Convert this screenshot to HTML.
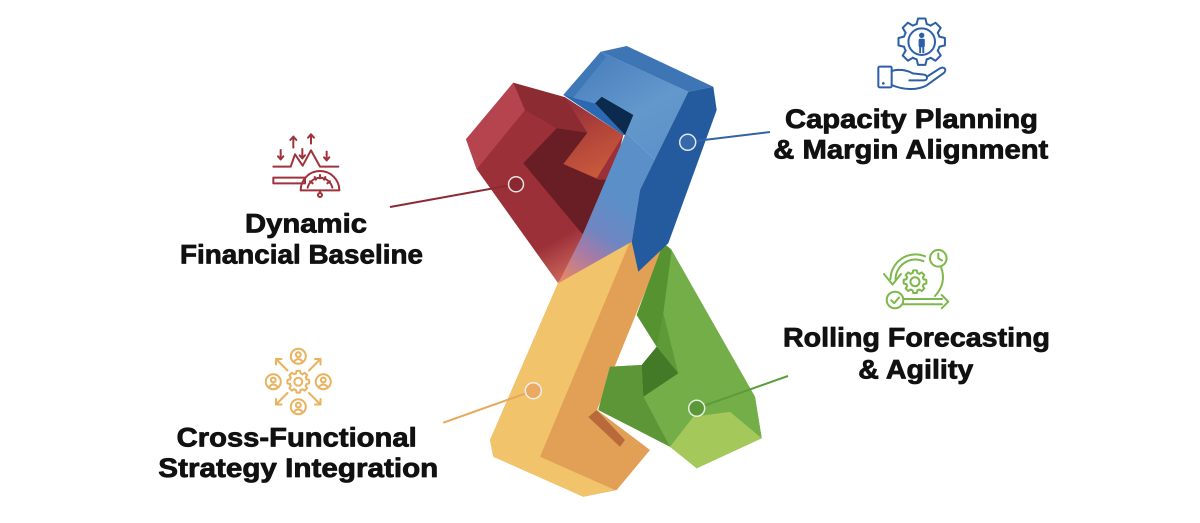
<!DOCTYPE html>
<html>
<head>
<meta charset="utf-8">
<style>
  html,body{margin:0;padding:0;background:#fff;}
  svg{display:block;}
  text.lbl{font-family:"Liberation Sans",Arial,sans-serif;font-weight:700;fill:#111;stroke:#111;stroke-width:0.8;stroke-linejoin:round;}
</style>
</head>
<body>
<svg width="1200" height="523" viewBox="0 0 1200 523" xmlns="http://www.w3.org/2000/svg">
  <defs>
    <linearGradient id="bgrad" gradientUnits="userSpaceOnUse" x1="620" y1="200" x2="565" y2="280">
      <stop offset="0" stop-color="#5b8fc8"/>
      <stop offset="0.4" stop-color="#6f86c2"/>
      <stop offset="0.65" stop-color="#a87aa6"/>
      <stop offset="1" stop-color="#e3866a"/>
    </linearGradient>
    <linearGradient id="btop" gradientUnits="userSpaceOnUse" x1="590" y1="60" x2="660" y2="180">
      <stop offset="0" stop-color="#4a80be"/>
      <stop offset="0.5" stop-color="#6398cc"/>
      <stop offset="1" stop-color="#5b8fc8"/>
    </linearGradient>
    <linearGradient id="rgrad" gradientUnits="userSpaceOnUse" x1="520" y1="200" x2="565" y2="283">
      <stop offset="0" stop-color="#9b3038"/>
      <stop offset="0.55" stop-color="#9b3038"/>
      <stop offset="1" stop-color="#cf6a5e"/>
    </linearGradient>
    <linearGradient id="ograd" gradientUnits="userSpaceOnUse" x1="572" y1="105" x2="605" y2="172">
      <stop offset="0" stop-color="#93303a"/>
      <stop offset="0.45" stop-color="#b2443a"/>
      <stop offset="1" stop-color="#c85a3c"/>
    </linearGradient>
  </defs>

  <rect width="1200" height="523" fill="#ffffff"/>

  <!-- RED LINK -->
  <polygon fill="url(#rgrad)" points="466,139.3 513.3,82.7 565,97.3 623.3,135 612,180 590,236 558,283 476.7,169.3"/>
  <polygon fill="#b6444e" points="466,139.3 513.3,82.7 525,110 476.7,169.3"/>
  <polygon fill="#8d2b32" points="513.3,82.7 565,97.3 587.3,132.7 556.7,128.3 525,110"/>
  <polygon fill="url(#ograd)" points="565,97.3 623.3,135 596.7,178.3 563.3,164 587.3,132.7"/>
  <polygon fill="#681e24" points="523.3,163.3 556.7,128.3 587.3,132.7 563.3,164 598,179.5 612,180 590,236 581.7,233.3"/>

  <!-- YELLOW LINK -->
  <polygon fill="#e2a057" points="558,283 630,241.7 665,243 597,410 650,450 616.7,490 583.3,496.7 493.3,456.7 490,440"/>
  <polygon fill="#f1c46b" points="558,283 630,241.7 540,456.7 615,490 583.3,496.7 493.3,456.7 490,440"/>
  <polygon fill="#b96a3b" points="588.3,417 596.7,410 625,440 620,446.7"/>

  <!-- GREEN LINK -->
  <polygon fill="#5f9a39" points="663.3,243.3 670,248.3 755,396.7 761.7,438.3 696.7,468.3 670,446.7 598.3,410 610,366.7 641.7,365 656.7,346.7 636.7,315"/>
  <polygon fill="#56922f" points="663.3,243.3 671.7,250 663.3,313.3 656.7,346.7 636.7,315"/>
  <polygon fill="#74ae49" points="671.7,250 755,396.7 761.7,438.3 730,411.7 693.3,416.7 670,446.7 643.3,396.7 678.3,373.3 663.3,313.3"/>
  <polygon fill="#437a28" points="656.7,346.7 678.3,373.3 643.3,396.7 641.7,365"/>
  <polygon fill="#5c9636" points="598.3,410 610,366.7 641.7,365 643.3,396.7 670,446.7"/>
  <polygon fill="#a4c95a" points="670,446.7 693.3,416.7 730,411.7 761.7,438.3 696.7,468.3"/>

  <!-- BLUE LINK -->
  <polygon fill="url(#btop)" points="563.3,95 600.7,51.7 688.3,91.7 655,160 595,103.3"/>
  <polygon fill="url(#bgrad)" points="625,135 595,103.3 655,160 640,190 631.7,241.7 558.3,283.3 581.7,236.7"/>
  <polygon fill="#3f78b7" points="563.3,95 600.7,51.7 606,57 573,98"/>
  <polygon fill="#3e75b5" points="600.7,51.7 626.7,46 713.3,86.7 688.3,91.7"/>
  <polygon fill="#245a9e" points="688.3,91.7 713.3,86.7 716.7,110 668.3,243.3 638.3,271.7 631.7,241.7 640,190"/>
  <polygon fill="#2b69b3" points="563.3,95 595,103.3 625,135 623.3,135"/>
  <polygon fill="#0c2a4d" points="595,103.3 601.7,96.7 633.3,115 625,135"/>

  <!-- CONNECTORS -->
  <line x1="390" y1="207" x2="509" y2="185.5" stroke="#8b2a35" stroke-width="2"/>
  <circle cx="516" cy="184.3" r="7.5" fill="#8a2830" stroke="#e8e2e2" stroke-width="1.5"/>

  <line x1="695.5" y1="141" x2="770" y2="132" stroke="#2f64a8" stroke-width="2"/>
  <circle cx="687.7" cy="142.3" r="8" fill="#3569aa" stroke="#dfe6ef" stroke-width="1.5"/>

  <line x1="443.3" y1="422.7" x2="525.5" y2="393.5" stroke="#e8a85a" stroke-width="2"/>
  <circle cx="533.3" cy="390.7" r="8" fill="#eaaa62" stroke="#eeeeee" stroke-width="1.5"/>

  <line x1="704.5" y1="405.5" x2="788" y2="376" stroke="#5d9c3a" stroke-width="2"/>
  <circle cx="696.7" cy="408.3" r="8" fill="#5a9838" stroke="#e6eee0" stroke-width="1.5"/>

  <!-- RED ICON -->
  <g transform="translate(260 125) scale(0.33333)" fill="none" stroke="#a0323c" stroke-linecap="round" stroke-linejoin="round">
    <polyline vector-effect="non-scaling-stroke" stroke-width="2" points="40,125 92,125 105,88 128,122 153,76 180,125 235,125"/>
    <line vector-effect="non-scaling-stroke" stroke-width="2" x1="100" y1="68" x2="100" y2="35"/>
    <polyline vector-effect="non-scaling-stroke" stroke-width="2" points="91,45 100,35 109,45"/>
    <line vector-effect="non-scaling-stroke" stroke-width="2" x1="153" y1="56" x2="153" y2="28"/>
    <polyline vector-effect="non-scaling-stroke" stroke-width="2" points="144,38 153,28 162,38"/>
    <line vector-effect="non-scaling-stroke" stroke-width="2" x1="62" y1="75" x2="62" y2="103"/>
    <polyline vector-effect="non-scaling-stroke" stroke-width="2" points="54,94 62,103 70,94"/>
    <line vector-effect="non-scaling-stroke" stroke-width="2" x1="127" y1="72" x2="127" y2="100"/>
    <polyline vector-effect="non-scaling-stroke" stroke-width="2" points="119,91 127,100 135,91"/>
    <line vector-effect="non-scaling-stroke" stroke-width="2" x1="200" y1="80" x2="200" y2="106"/>
    <polyline vector-effect="non-scaling-stroke" stroke-width="2" points="192,97 200,106 208,97"/>
    <rect vector-effect="non-scaling-stroke" stroke-width="2" x="40" y="158" width="95" height="17"/>
    <path vector-effect="non-scaling-stroke" stroke-width="2" d="M122,196 A58,58 0 0 1 238,196 Z"/>
    <path vector-effect="non-scaling-stroke" stroke-width="2" d="M143,188 A38,38 0 0 1 217,188"/>
    <line vector-effect="non-scaling-stroke" stroke-width="2" x1="150" y1="169" x2="158" y2="175"/>
    <line vector-effect="non-scaling-stroke" stroke-width="2" x1="180" y1="150" x2="180" y2="160"/>
    <line vector-effect="non-scaling-stroke" stroke-width="2" x1="210" y1="169" x2="202" y2="175"/>
    <line vector-effect="non-scaling-stroke" stroke-width="2" x1="164" y1="156" x2="168" y2="164"/>
    <line vector-effect="non-scaling-stroke" stroke-width="2" x1="196" y1="156" x2="192" y2="164"/>
    <line vector-effect="non-scaling-stroke" stroke-width="2" x1="180" y1="196" x2="180" y2="204"/>
    <circle vector-effect="non-scaling-stroke" stroke-width="2" cx="180" cy="210" r="6" fill="#fff"/>
  </g>

  <!-- BLUE ICON -->
  <g fill="none" stroke="#2c5fa8" stroke-linecap="round" stroke-linejoin="round">
    <g transform="translate(921.7 41.7) scale(23.5)">
      <path vector-effect="non-scaling-stroke" stroke-width="2" d="M0.7498,-0.2150 L0.9877,-0.1564 L0.9877,0.1564 L0.7498,0.2150 A0.78,0.78 0 0 1 0.6822,0.3781"/>
      <path transform="rotate(45)" vector-effect="non-scaling-stroke" stroke-width="2" d="M0.7498,-0.2150 L0.9877,-0.1564 L0.9877,0.1564 L0.7498,0.2150 A0.78,0.78 0 0 1 0.6822,0.3781"/>
      <path transform="rotate(90)" vector-effect="non-scaling-stroke" stroke-width="2" d="M0.7498,-0.2150 L0.9877,-0.1564 L0.9877,0.1564 L0.7498,0.2150 A0.78,0.78 0 0 1 0.6822,0.3781"/>
      <path transform="rotate(135)" vector-effect="non-scaling-stroke" stroke-width="2" d="M0.7498,-0.2150 L0.9877,-0.1564 L0.9877,0.1564 L0.7498,0.2150 A0.78,0.78 0 0 1 0.6822,0.3781"/>
      <path transform="rotate(180)" vector-effect="non-scaling-stroke" stroke-width="2" d="M0.7498,-0.2150 L0.9877,-0.1564 L0.9877,0.1564 L0.7498,0.2150 A0.78,0.78 0 0 1 0.6822,0.3781"/>
      <path transform="rotate(225)" vector-effect="non-scaling-stroke" stroke-width="2" d="M0.7498,-0.2150 L0.9877,-0.1564 L0.9877,0.1564 L0.7498,0.2150 A0.78,0.78 0 0 1 0.6822,0.3781"/>
      <path transform="rotate(270)" vector-effect="non-scaling-stroke" stroke-width="2" d="M0.7498,-0.2150 L0.9877,-0.1564 L0.9877,0.1564 L0.7498,0.2150 A0.78,0.78 0 0 1 0.6822,0.3781"/>
      <path transform="rotate(315)" vector-effect="non-scaling-stroke" stroke-width="2" d="M0.7498,-0.2150 L0.9877,-0.1564 L0.9877,0.1564 L0.7498,0.2150 A0.78,0.78 0 0 1 0.6822,0.3781"/>
    </g>
    <circle cx="921.7" cy="41.7" r="13.3" stroke-width="2"/>
    <circle cx="921.7" cy="35.3" r="2.7" fill="#2c5fa8" stroke="none"/>
    <rect x="918.6" y="38.8" width="6.2" height="8.4" rx="1.2" fill="#2c5fa8" stroke="none"/>
    <rect x="919.2" y="46.5" width="1.9" height="6.6" fill="#2c5fa8" stroke="none"/>
    <rect x="922.3" y="46.5" width="1.9" height="6.6" fill="#2c5fa8" stroke="none"/>
    <g transform="translate(860 10) scale(0.33333)">
      <rect vector-effect="non-scaling-stroke" stroke-width="2" x="55" y="170" width="40" height="62" rx="4"/>
      <circle cx="70" cy="220" r="4" fill="#2c5fa8" stroke="none"/>
      <path vector-effect="non-scaling-stroke" stroke-width="2" d="M95,183 C115,176 140,180 158,190 L192,194 C204,196 204,211 192,211 L148,211"/>
      <path vector-effect="non-scaling-stroke" stroke-width="2" d="M95,225 C130,240 170,242 200,226 L250,190 C262,181 254,168 240,175 L204,198"/>
    </g>
  </g>

  <!-- GREEN ICON -->
  <g fill="none" stroke="#7cb84a" stroke-linecap="round" stroke-linejoin="round" stroke-width="2">
    <g transform="translate(915 281.7) scale(11.5)">
      <path vector-effect="non-scaling-stroke" d="M0.7498,-0.2150 L0.9877,-0.1564 L0.9877,0.1564 L0.7498,0.2150 A0.78,0.78 0 0 1 0.6822,0.3781"/>
      <path transform="rotate(45)" vector-effect="non-scaling-stroke" d="M0.7498,-0.2150 L0.9877,-0.1564 L0.9877,0.1564 L0.7498,0.2150 A0.78,0.78 0 0 1 0.6822,0.3781"/>
      <path transform="rotate(90)" vector-effect="non-scaling-stroke" d="M0.7498,-0.2150 L0.9877,-0.1564 L0.9877,0.1564 L0.7498,0.2150 A0.78,0.78 0 0 1 0.6822,0.3781"/>
      <path transform="rotate(135)" vector-effect="non-scaling-stroke" d="M0.7498,-0.2150 L0.9877,-0.1564 L0.9877,0.1564 L0.7498,0.2150 A0.78,0.78 0 0 1 0.6822,0.3781"/>
      <path transform="rotate(180)" vector-effect="non-scaling-stroke" d="M0.7498,-0.2150 L0.9877,-0.1564 L0.9877,0.1564 L0.7498,0.2150 A0.78,0.78 0 0 1 0.6822,0.3781"/>
      <path transform="rotate(225)" vector-effect="non-scaling-stroke" d="M0.7498,-0.2150 L0.9877,-0.1564 L0.9877,0.1564 L0.7498,0.2150 A0.78,0.78 0 0 1 0.6822,0.3781"/>
      <path transform="rotate(270)" vector-effect="non-scaling-stroke" d="M0.7498,-0.2150 L0.9877,-0.1564 L0.9877,0.1564 L0.7498,0.2150 A0.78,0.78 0 0 1 0.6822,0.3781"/>
      <path transform="rotate(315)" vector-effect="non-scaling-stroke" d="M0.7498,-0.2150 L0.9877,-0.1564 L0.9877,0.1564 L0.7498,0.2150 A0.78,0.78 0 0 1 0.6822,0.3781"/>
    </g>
    <circle cx="915" cy="281.7" r="4.5"/>
    <path d="M925,256.3 A25,25 0 0 0 890.5,279"/>
    <path d="M923.5,261.2 A20,20 0 0 0 895.5,279"/>
    <polyline points="884,274 892.5,284.5 901,274"/>
    <path d="M941,267 Q947,283 935,296"/>
    <line x1="903.5" y1="299" x2="942" y2="299"/>
    <line x1="903.5" y1="304.3" x2="942" y2="304.3"/>
    <polyline points="941.7,295 948.3,301.7 941.7,308.3"/>
    <circle cx="938.3" cy="258.3" r="8.3" fill="#fff"/>
    <polyline points="938.3,253.5 938.3,258.3 942,260.5"/>
    <circle cx="895" cy="300" r="8.3" fill="#fff"/>
    <polyline points="891.3,300.3 894.2,303.2 899,297.5"/>
  </g>

  <!-- YELLOW ICON -->
  <g fill="none" stroke="#eab25e" stroke-linecap="round" stroke-linejoin="round" stroke-width="2">
    <g transform="translate(298.3 381.7) scale(11)">
      <path vector-effect="non-scaling-stroke" d="M0.7498,-0.2150 L0.9877,-0.1564 L0.9877,0.1564 L0.7498,0.2150 A0.78,0.78 0 0 1 0.6822,0.3781"/>
      <path transform="rotate(45)" vector-effect="non-scaling-stroke" d="M0.7498,-0.2150 L0.9877,-0.1564 L0.9877,0.1564 L0.7498,0.2150 A0.78,0.78 0 0 1 0.6822,0.3781"/>
      <path transform="rotate(90)" vector-effect="non-scaling-stroke" d="M0.7498,-0.2150 L0.9877,-0.1564 L0.9877,0.1564 L0.7498,0.2150 A0.78,0.78 0 0 1 0.6822,0.3781"/>
      <path transform="rotate(135)" vector-effect="non-scaling-stroke" d="M0.7498,-0.2150 L0.9877,-0.1564 L0.9877,0.1564 L0.7498,0.2150 A0.78,0.78 0 0 1 0.6822,0.3781"/>
      <path transform="rotate(180)" vector-effect="non-scaling-stroke" d="M0.7498,-0.2150 L0.9877,-0.1564 L0.9877,0.1564 L0.7498,0.2150 A0.78,0.78 0 0 1 0.6822,0.3781"/>
      <path transform="rotate(225)" vector-effect="non-scaling-stroke" d="M0.7498,-0.2150 L0.9877,-0.1564 L0.9877,0.1564 L0.7498,0.2150 A0.78,0.78 0 0 1 0.6822,0.3781"/>
      <path transform="rotate(270)" vector-effect="non-scaling-stroke" d="M0.7498,-0.2150 L0.9877,-0.1564 L0.9877,0.1564 L0.7498,0.2150 A0.78,0.78 0 0 1 0.6822,0.3781"/>
      <path transform="rotate(315)" vector-effect="non-scaling-stroke" d="M0.7498,-0.2150 L0.9877,-0.1564 L0.9877,0.1564 L0.7498,0.2150 A0.78,0.78 0 0 1 0.6822,0.3781"/>
    </g>
    <circle cx="298.3" cy="381.7" r="4"/>
    <circle cx="298.3" cy="356.3" r="7.5"/>
    <circle cx="298.3" cy="354.6" r="2.4"/>
    <path d="M294,361.5 Q298.3,356.8 302.6,361.5"/>
    <circle cx="273.3" cy="381.7" r="7.5"/>
    <circle cx="273.3" cy="380" r="2.4"/>
    <path d="M269,386.9 Q273.3,382.2 277.6,386.9"/>
    <circle cx="323.3" cy="381.7" r="7.5"/>
    <circle cx="323.3" cy="380" r="2.4"/>
    <path d="M319,386.9 Q323.3,382.2 327.6,386.9"/>
    <circle cx="298.3" cy="406.7" r="7.5"/>
    <circle cx="298.3" cy="405" r="2.4"/>
    <path d="M294,411.9 Q298.3,407.2 302.6,411.9"/>
    <line x1="287.5" y1="370.5" x2="276" y2="359"/>
    <polyline points="276,364.5 276,359 281.5,359"/>
    <line x1="309" y1="370.5" x2="320.5" y2="359"/>
    <polyline points="315,359 320.5,359 320.5,364.5"/>
    <line x1="287.5" y1="393" x2="276" y2="404.5"/>
    <polyline points="276,399 276,404.5 281.5,404.5"/>
    <line x1="309" y1="393" x2="320.5" y2="404.5"/>
    <polyline points="315,404.5 320.5,404.5 320.5,399"/>
  </g>

  <!-- LABELS -->
  <text class="lbl" x="306" y="232.5" font-size="27" text-anchor="middle" textLength="122" lengthAdjust="spacingAndGlyphs">Dynamic</text>
  <text class="lbl" x="301.5" y="263.3" font-size="27" text-anchor="middle" textLength="243" lengthAdjust="spacingAndGlyphs">Financial Baseline</text>

  <text class="lbl" x="911.5" y="128" font-size="27" text-anchor="middle" textLength="253" lengthAdjust="spacingAndGlyphs">Capacity Planning</text>
  <text class="lbl" x="910.8" y="158.3" font-size="27" text-anchor="middle" textLength="275" lengthAdjust="spacingAndGlyphs">&amp; Margin Alignment</text>

  <text class="lbl" x="916.5" y="346.7" font-size="27" text-anchor="middle" textLength="267" lengthAdjust="spacingAndGlyphs">Rolling Forecasting</text>
  <text class="lbl" x="915.8" y="378.3" font-size="27" text-anchor="middle" textLength="115" lengthAdjust="spacingAndGlyphs">&amp; Agility</text>

  <text class="lbl" x="296.7" y="446.7" font-size="27" text-anchor="middle" textLength="240" lengthAdjust="spacingAndGlyphs">Cross-Functional</text>
  <text class="lbl" x="298.3" y="477" font-size="27" text-anchor="middle" textLength="280" lengthAdjust="spacingAndGlyphs">Strategy Integration</text>
</svg>
</body>
</html>
